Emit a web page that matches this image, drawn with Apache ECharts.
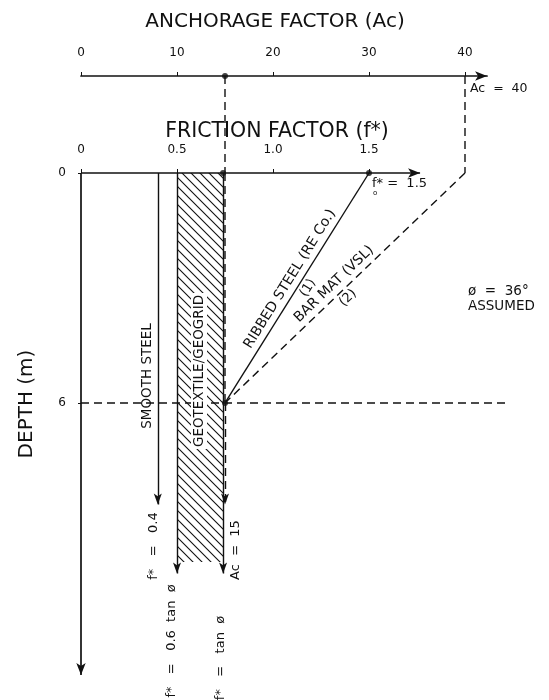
<!DOCTYPE html>
<html>
<head>
<meta charset="utf-8">
<script src="https://cdn.jsdelivr.net/npm/echarts@6/dist/echarts.min.js"></script>
<style>
html, body { margin: 0; padding: 0; background: #fff; }
#chart { width: 549px; height: 700px; }
</style>
</head>
<body>
<div id="chart"></div>
<script>
// ---- tick values ----
const acTicks = [0, 10, 20, 30, 40];
const fTicks = [0, 0.5, 1.0, 1.5];
const depthTicks = [0, 6];

// ---- design values (f* = friction factor, Ac = anchorage factor, depth in m) ----
const acPerF = 20;              // Ac scale = 20 x f* scale
const smoothSteelF = 0.4;       // f* = 0.4
const geoBandF = [0.5, 0.74];   // 0.6 tan(phi) .. tan(phi)
const geoBandDepth = 10.15;     // hatched band bottom
const geoArrowDepth = 10.45;
const smoothArrowDepth = 8.65;
const ac15ArrowDepth = 8.65;
const ribbedTopF = 1.5;         // f*o = 1.5 at surface
const barMatTopAc = 40;         // Ac = 40 at surface
const tanPhiAc = 15;            // Ac = 15 below 6 m
const transitionDepth = 6;
const depthMax = 13.1;          // end of the depth arrow
const fAxisEnd = 1.766;         // end of the friction-factor arrow
const acMax = 42.3;             // end of the anchorage-factor arrow
const depthLineEndF = 2.22;     // right end of the 6 m line

// ---- layout ----
const FONT = '"DejaVu Sans", "Liberation Sans", sans-serif';
const INK = '#111';
const pxPerF = 192;
const gridLeft = 81;
const acAxisTop = 76;
const fAxisTop = 173;
const pxPerM = 38.33;

function hatchPattern() {
  const s = 9;
  const c = document.createElement('canvas');
  c.width = s; c.height = s;
  const g = c.getContext('2d');
  g.strokeStyle = INK;
  g.lineWidth = 1.1;
  g.beginPath();
  g.moveTo(0, 0); g.lineTo(s, s);
  g.moveTo(-2, s - 2); g.lineTo(2, s + 2);
  g.moveTo(s - 2, -2); g.lineTo(s + 2, 2);
  g.stroke();
  return c;
}

const axisStyle = { color: INK, width: 1.7, type: 'solid' };
const solid = { color: INK, width: 1.4, type: 'solid' };
const dashed = { color: INK, width: 1.4, type: [8, 5] };

function path(points, style, grid) {
  return {
    type: 'line', xAxisIndex: grid, yAxisIndex: grid, data: points,
    symbol: 'none', clip: false, silent: true, lineStyle: style, z: 3
  };
}

function arrow(from, to, style, size) {
  return {
    type: 'line', xAxisIndex: 1, yAxisIndex: 1, data: [], clip: false, silent: true,
    markLine: {
      silent: true, symbol: ['none', 'arrow'], symbolSize: size || [6, 11],
      label: { show: false }, emphasis: { disabled: true },
      lineStyle: style, itemStyle: { color: INK },
      data: [[{ coord: from }, { coord: to }]]
    }
  };
}

function dots(points, grid) {
  return {
    type: 'scatter', xAxisIndex: grid, yAxisIndex: grid, data: points,
    symbolSize: 6, itemStyle: { color: INK }, silent: true, clip: false, z: 5
  };
}

const tanPhiF = tanPhiAc / acPerF;
const barMatTopF = barMatTopAc / acPerF;

const series = [
  // connectors between the anchorage axis and the friction axis
  path([[tanPhiAc, 0], [tanPhiAc, 1]], dashed, 0),
  path([[barMatTopAc, 0], [barMatTopAc, 1]], dashed, 0),
  dots([[tanPhiAc, 0]], 0),
  // friction-factor and depth axis lines
  arrow([0, 0], [fAxisEnd, 0], axisStyle, [7, 12]),
  arrow([0, 0], [0, depthMax], axisStyle, [7, 12]),
  // geotextile / geogrid band
  {
    type: 'line', xAxisIndex: 1, yAxisIndex: 1, data: [], silent: true,
    markArea: {
      silent: true,
      itemStyle: { color: { image: hatchPattern(), repeat: 'repeat' } },
      data: [[{ coord: [geoBandF[0], 0] }, { coord: [geoBandF[1], geoBandDepth] }]]
    }
  },
  arrow([geoBandF[0], 0], [geoBandF[0], geoArrowDepth], solid),
  arrow([geoBandF[1], 0], [geoBandF[1], geoArrowDepth], solid),
  // smooth steel
  arrow([smoothSteelF, 0], [smoothSteelF, smoothArrowDepth], solid),
  // Ac = 15 below the transition depth
  path([[tanPhiF, 0], [tanPhiF, transitionDepth]], dashed, 1),
  arrow([tanPhiF, transitionDepth], [tanPhiF, ac15ArrowDepth], dashed),
  // ribbed steel (1)
  path([[ribbedTopF, 0], [tanPhiF, transitionDepth]], solid, 1),
  // bar mat (2)
  path([[barMatTopF, 0], [tanPhiF, transitionDepth]], dashed, 1),
  // transition depth
  path([[0, transitionDepth], [depthLineEndF, transitionDepth]], dashed, 1),
  dots([[geoBandF[1], 0], [ribbedTopF, 0], [tanPhiF, transitionDepth]], 1)
];

function txt(text, x, y, size, rot, align, boxed) {
  const style = {
    text: text, font: size + 'px ' + FONT, fill: INK,
    align: align || 'center', verticalAlign: 'middle'
  };
  if (boxed) {
    style.backgroundColor = '#fff';
    style.padding = [1, 2];
  }
  return { type: 'text', x: x, y: y, rotation: rot || 0, silent: true, z: 10, style: style };
}

const R90 = Math.PI / 2;
const ribAngle = Math.atan2(230, 143);
const barAngle = Math.atan2(230, 240);
const graphics = [
  txt('ANCHORAGE FACTOR (Ac)', 275, 22, 20),
  txt('FRICTION FACTOR (f*)', 277, 132, 20.5),
  txt('DEPTH (m)', 27, 404, 20, R90),
  txt('Ac  =  40', 470, 89, 12.5, 0, 'left'),
  txt('f* =  1.5', 372, 184, 13, 0, 'left'),
  txt('o', 373, 193, 7, 0, 'left'),
  txt('ø  =  36°', 468, 291, 13.5, 0, 'left'),
  txt('ASSUMED', 468, 306, 13.5, 0, 'left'),
  txt('RIBBED STEEL (RE Co.)', 290, 279, 14, ribAngle),
  txt('(1)', 308, 288, 13, ribAngle),
  txt('BAR MAT (VSL)', 334, 284, 14, barAngle),
  txt('(2)', 348, 298, 13, barAngle),
  txt('SMOOTH STEEL', 147, 376, 13.5, R90),
  txt('GEOTEXTILE/GEOGRID', 199, 371, 13.5, R90, 'center', true),
  txt('f*   =   0.4', 154, 546, 13, R90),
  txt('f*   =   0.6  tan  ø', 172, 641, 13, R90),
  txt('Ac  =  15', 236, 550, 13, R90),
  txt('f*   =   tan  ø', 221, 658, 13, R90)
];

const axisText = { color: INK, fontFamily: FONT, fontSize: 12 };
const chart = echarts.init(document.getElementById('chart'), null, { renderer: 'canvas' });
chart.setOption({
  animation: false,
  backgroundColor: '#fff',
  grid: [
    { left: gridLeft, top: acAxisTop, width: acMax / acPerF * pxPerF, height: fAxisTop - acAxisTop },
    { left: gridLeft, top: fAxisTop, width: depthLineEndF * pxPerF, height: depthMax * pxPerM }
  ],
  xAxis: [
    {
      gridIndex: 0, type: 'value', position: 'top', min: 0, max: acMax,
      axisLine: { show: true, symbol: ['none', 'arrow'], symbolSize: [7, 12], lineStyle: axisStyle },
      axisTick: { show: true, customValues: acTicks, length: 4, lineStyle: { color: INK } },
      axisLabel: Object.assign({ customValues: acTicks, margin: 17 }, axisText),
      splitLine: { show: false }
    },
    {
      gridIndex: 1, type: 'value', position: 'top', min: 0, max: depthLineEndF,
      axisLine: { show: false },
      axisTick: { show: true, customValues: fTicks, length: 4, lineStyle: { color: INK } },
      axisLabel: Object.assign({
        customValues: fTicks, margin: 17,
        formatter: v => (v === 0 ? '0' : v.toFixed(1))
      }, axisText),
      splitLine: { show: false }
    }
  ],
  yAxis: [
    { gridIndex: 0, type: 'value', show: false, min: 0, max: 1, inverse: true },
    {
      gridIndex: 1, type: 'value', inverse: true, min: 0, max: depthMax,
      axisLine: { show: false },
      axisTick: { show: true, customValues: depthTicks, length: 3, lineStyle: { color: INK } },
      axisLabel: Object.assign({ customValues: depthTicks, margin: 15 }, axisText),
      splitLine: { show: false }
    }
  ],
  series: series,
  graphic: graphics
});
</script>
</body>
</html>
